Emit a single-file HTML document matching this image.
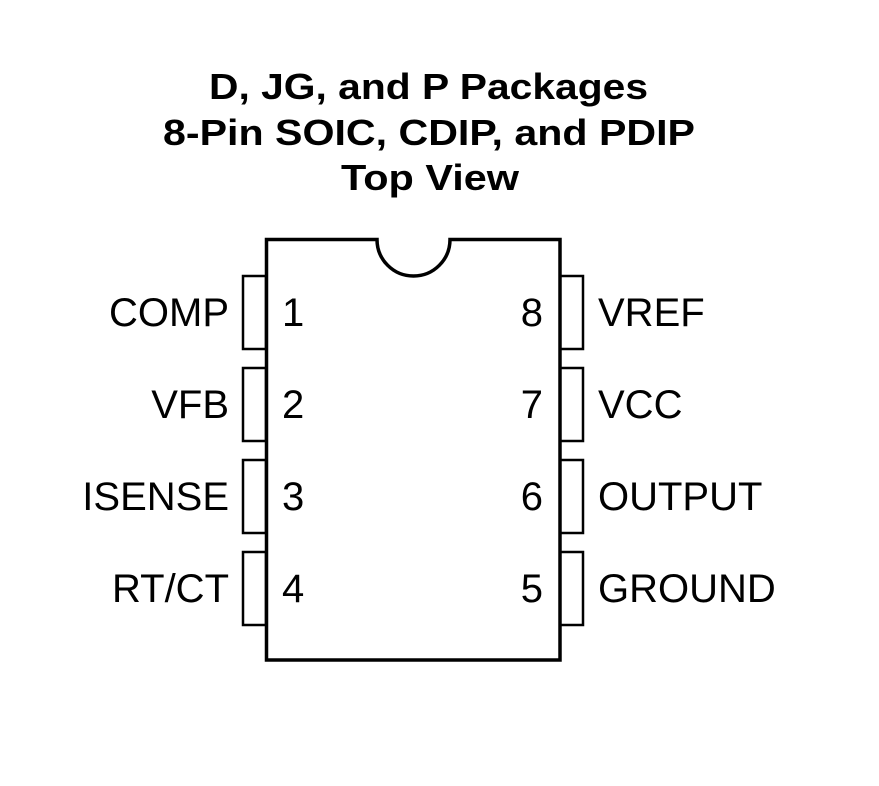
<!DOCTYPE html>
<html><head><style>
body{margin:0;background:#fff;}
</style></head><body>
<svg width="879" height="786" xmlns="http://www.w3.org/2000/svg" style="display:block">
<rect width="879" height="786" fill="#fff"/>
<g font-family="Liberation Sans, Arial, sans-serif" font-weight="bold" font-size="36" fill="#000" lengthAdjust="spacingAndGlyphs">
<text x="209" y="99" textLength="439" lengthAdjust="spacingAndGlyphs">D, JG, and P Packages</text>
<text x="163" y="145" textLength="532" lengthAdjust="spacingAndGlyphs">8-Pin SOIC, CDIP, and PDIP</text>
<text x="341" y="190" textLength="178" lengthAdjust="spacingAndGlyphs">Top View</text>
</g>
<path d="M377 239.5 H266.5 V660 H560 V239.5 H450 A36.5 36.5 0 0 1 377 239.5 Z" fill="none" stroke="#000" stroke-width="3.5"/>
<g fill="none" stroke="#000" stroke-width="2.5">
<rect x="243" y="276" width="23" height="73"/>
<rect x="243" y="368" width="23" height="73"/>
<rect x="243" y="460" width="23" height="73"/>
<rect x="243" y="552" width="23" height="73"/>
<rect x="560" y="276" width="23" height="73"/>
<rect x="560" y="368" width="23" height="73"/>
<rect x="560" y="460" width="23" height="73"/>
<rect x="560" y="552" width="23" height="73"/>
</g>
<g font-family="Liberation Sans, Arial, sans-serif" font-size="40" fill="#000">
<g text-anchor="end">
<text x="229" y="326">COMP</text>
<text x="229" y="418">VFB</text>
<text x="229" y="510">ISENSE</text>
<text x="229" y="602">RT/CT</text>
<text x="543" y="326">8</text>
<text x="543" y="418">7</text>
<text x="543" y="510">6</text>
<text x="543" y="602">5</text>
</g>
<text x="282" y="326">1</text>
<text x="282" y="418">2</text>
<text x="282" y="510">3</text>
<text x="282" y="602">4</text>
<text x="598" y="326">VREF</text>
<text x="598" y="418">VCC</text>
<text x="598" y="510">OUTPUT</text>
<text x="598" y="602">GROUND</text>
</g>
</svg>
</body></html>
